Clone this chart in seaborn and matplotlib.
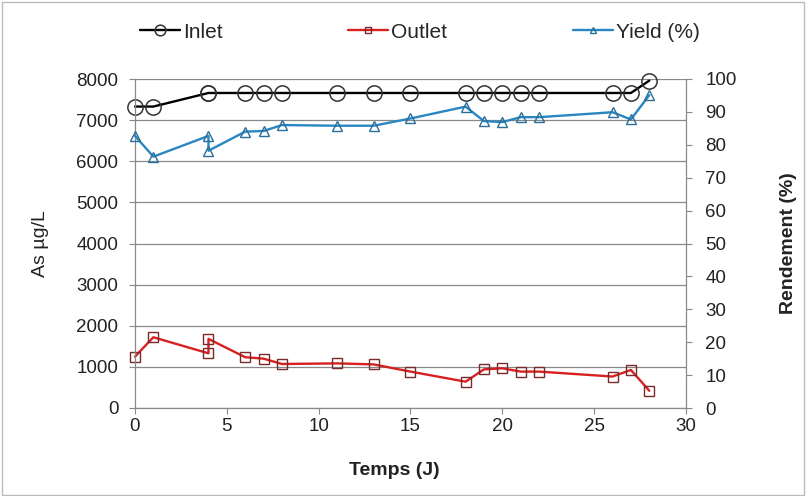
import matplotlib
matplotlib.use("Agg")
import matplotlib.pyplot as plt
import seaborn as sns
import pandas as pd
from matplotlib.patches import Rectangle

days = [0, 1, 4, 4, 6, 7, 8, 11, 13, 15, 18, 19, 20, 21, 22, 26, 27, 28]
inlet = [7330, 7330, 7660, 7660, 7660, 7660, 7660, 7660, 7660, 7660, 7660, 7660, 7660, 7660, 7660, 7660, 7660, 7960]
outlet = [1250, 1720, 1330, 1680, 1235, 1200, 1070, 1085, 1060, 885, 640, 940, 965, 885, 885, 765, 925, 420]
yield_pct = [82.7, 76.4, 82.7, 78.2, 84.0, 84.2, 86.0, 85.8, 85.8, 88.0, 91.6, 87.2, 86.9, 88.4, 88.4, 89.9, 87.7, 95.1]

df = pd.DataFrame({"Temps": days, "Inlet": inlet, "Outlet": outlet, "Yield": yield_pct})

sns.set_theme(style="white")
plt.rcParams['font.family'] = ['Liberation Sans', 'DejaVu Sans']

FS = 13.5
fig = plt.figure(figsize=(8.06, 4.96), dpi=100)
ax = fig.add_axes([135/806, 1-408/496, (686-135)/806, (408-79)/496])
ax2 = ax.twinx()

common = dict(estimator=None, sort=False, legend=False, lw=1.7, clip_on=False,
              markerfacecolor="none")
sns.lineplot(data=df, x="Temps", y="Inlet", ax=ax, color="black", marker="o", markersize=11,
             markeredgecolor="#333333", markeredgewidth=1.1, label="Inlet", **common)
sns.lineplot(data=df, x="Temps", y="Outlet", ax=ax, color="#d92020", marker="s", markersize=7,
             markeredgecolor="#7a2a2a", markeredgewidth=1.0, label="Outlet", **common)
sns.lineplot(data=df, x="Temps", y="Yield", ax=ax2, color="#2a86c0", marker="^", markersize=7,
             markeredgecolor="#2a6f9a", markeredgewidth=1.0, label="Yield (%)", **common)

ax.set_xlim(0, 30)
ax.set_ylim(0, 8000)
ax2.set_ylim(0, 100)
ax.set_xticks(range(0, 31, 5))
ax.set_yticks(range(0, 8001, 1000))
ax2.set_yticks(range(0, 101, 10))
ax.yaxis.grid(True, color="#888888", lw=0.9)
ax.set_axisbelow(True)

for a in (ax, ax2):
    for s in a.spines.values():
        s.set_visible(False)
    a.tick_params(labelsize=FS, colors="#222222", length=4, width=0.8)
ax.spines["left"].set_visible(True)
ax.spines["bottom"].set_visible(True)
ax2.spines["right"].set_visible(True)
for s in (ax.spines["left"], ax.spines["bottom"], ax2.spines["right"]):
    s.set_color("#888888")
    s.set_linewidth(0.9)
ax.tick_params(axis="y", direction="out", color="#888888", left=True, pad=8)
ax.tick_params(axis="x", direction="out", color="#888888", bottom=True, pad=3)
ax2.tick_params(axis="y", direction="out", color="#888888", right=True, pad=10)

ax.set_xlabel("Temps (J)", fontsize=14, fontweight="bold", color="#222222", labelpad=19)
ax.xaxis.set_label_coords(0.47, -0.165)
ax.set_ylabel("As µg/L", fontsize=14, color="#222222", labelpad=20)
ax2.set_ylabel("Rendement (%)", fontsize=14, fontweight="bold", color="#222222", labelpad=31)

h1, l1 = ax.get_legend_handles_labels()
h2, l2 = ax2.get_legend_handles_labels()
handles = h1 + h2
labels = l1 + l2
xs = [140, 348, 573]
for h, l, x in zip(handles, labels, xs):
    fig.legend([h], [l], loc="center left", bbox_to_anchor=(x/806, 1-32/496),
               frameon=False, fontsize=15, handlelength=1.9, handletextpad=0.15,
               markerscale=0.7, borderpad=0, borderaxespad=0)

fig.patches.append(Rectangle((0.002, 0.003), 0.995, 0.993, transform=fig.transFigure,
                             fill=False, edgecolor="#bbbbbb", lw=1))

fig.savefig("out.png", dpi=100)
